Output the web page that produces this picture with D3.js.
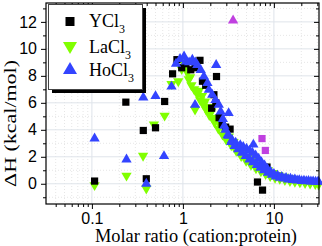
<!DOCTYPE html>
<html>
<head>
<meta charset="utf-8">
<script src="https://cdn.jsdelivr.net/npm/d3@7"></script>
<style>
  body { margin: 0; background: #fff; }
  svg { display: block; }
</style>
</head>
<body>
<svg id="chart"></svg>
<script>
// Chart size
const width = 322;
const height = 246;

// Data: [molar ratio, dH]
const ycl3 = [
  [0.107, 0.2], [0.236, 6.05], [0.367, 3.95], [0.396, 0.37], [0.5, 4.15], [0.63, 6.1],
  [0.77, 8.15], [0.86, 9.2], [0.97, 8.6], [1.08, 8.9], [1.22, 8.45], [1.36, 8.6],
  [1.54, 9.15], [1.64, 7.6], [1.78, 7.3], [2.07, 5.6], [2.19, 6.6], [2.3, 6.0],
  [2.34, 7.95], [2.5, 4.9], [2.7, 4.4], [2.95, 4.2], [3.3, 4.05], [6.6, 0.13],
  [7.5, -0.47], [8.4, 1.24]
];

const lacl3 = [
  [0.107, -0.1], [0.24, 0.6], [0.365, 2.07], [0.396, -0.35], [0.48, 4.4], [0.63, 5.05],
  [1.36, 5.5], [0.75, 7.4], [0.89, 7.6], [0.97, 8.5], [1.02, 9.0], [1.12, 8.25],
  [1.16, 7.75], [1.24, 7.3], [1.33, 7.0], [1.44, 6.65], [1.55, 6.2], [1.68, 5.85],
  [1.8, 5.5], [1.95, 5.1], [2.1, 4.9], [2.23, 4.55], [2.45, 4.1], [2.72, 3.65],
  [3.0, 3.25], [3.4, 2.85], [3.85, 2.45], [4.37, 2.05], [4.95, 1.7], [5.6, 1.4],
  [6.35, 1.15], [7.2, 0.92], [8.1, 0.72], [9.1, 0.57], [10.3, 0.45], [11.6, 0.36],
  [13.2, 0.28], [15, 0.21], [17, 0.15], [19.3, 0.1], [22, 0.06], [25, 0.02],
  [28.5, -0.02], [31, -0.05],
  [1.1, 8.44], [1.2, 7.9], [1.5, 6.9], [1.62, 6.5], [1.75, 6.1], [1.9, 5.7],
  [2.05, 5.35], [2.3, 4.85], [2.55, 4.4], [2.85, 3.95], [3.2, 3.5], [3.6, 3.1],
  [4.1, 2.7], [4.6, 2.35], [5.2, 2.0], [5.9, 1.7], [6.7, 1.45], [7.6, 1.2],
  [8.6, 1.0], [9.8, 0.8], [11.2, 0.65], [12.8, 0.52], [14.6, 0.42], [16.7, 0.34],
  [19, 0.28], [21.7, 0.23], [24.8, 0.19], [28.3, 0.16]
];

const hocl3 = [
  [0.107, 3.35], [0.24, 1.8], [0.367, 6.4], [0.396, 0.0], [0.5, 6.5], [0.62, 2.05],
  [0.75, 7.2], [1.36, 5.85], [2.32, 8.8], [3.18, 5.24], [5.95, 2.9],
  [0.84, 8.9], [0.93, 9.25], [1.03, 9.43], [1.08, 9.06], [1.17, 9.0], [1.27, 9.2],
  [1.37, 9.0], [1.44, 8.8], [1.57, 8.44], [1.7, 7.95], [1.86, 7.46], [1.93, 6.96],
  [2.1, 6.6], [2.28, 6.2], [2.48, 5.85], [2.6, 5.35], [2.75, 4.8],
  [2.94, 4.0], [3.2, 3.55], [3.47, 3.25], [3.8, 3.05], [4.27, 2.85], [4.6, 2.72],
  [5.0, 2.6], [5.4, 2.45], [5.8, 2.3], [6.3, 2.1], [6.8, 1.85], [7.3, 1.6],
  [7.9, 1.35], [8.5, 1.1], [9.2, 0.9], [10, 0.72], [11, 0.6], [12.2, 0.5],
  [13.6, 0.43], [15.2, 0.37], [17, 0.32], [19, 0.27], [21.4, 0.23], [24, 0.2],
  [27, 0.18], [30.5, 0.16],
  [2.85, 4.3], [3.1, 3.6], [3.4, 3.1], [3.7, 2.8], [4.05, 2.55], [4.45, 2.3],
  [4.9, 2.05], [5.4, 1.8], [5.9, 1.6], [6.5, 1.38], [7.1, 1.18], [7.8, 1.0],
  [8.6, 0.82], [9.5, 0.66], [10.5, 0.54], [11.6, 0.45], [12.9, 0.38], [14.4, 0.32],
  [16.1, 0.28], [18, 0.24], [20.2, 0.21], [22.7, 0.19], [25.5, 0.17], [28.7, 0.15],
  [31, 0.14]
];

// Outliers drawn in magenta
const outlierTri = [[3.56, 12.1]];
const outlierSq = [[7.4, 3.35], [8.05, 2.47]];

// Tick values
const xMajor = [0.1, 1, 10];
const xMinor = [0.04, 0.05, 0.06, 0.07, 0.08, 0.09, 0.2, 0.3, 0.4, 0.5, 0.6, 0.7, 0.8, 0.9,
                2, 3, 4, 5, 6, 7, 8, 9, 20, 30];
const yMajor = [0, 2, 4, 6, 8, 10, 12];
const yMinor = [-1, 1, 3, 5, 7, 9, 11, 13];

const legendItems = ["Y", "La", "Ho"];

// Plot area
const plotLeft = 46, plotRight = 319, plotTop = 3, plotBottom = 204;

const x = d3.scaleLog().domain([0.0313, 31.3]).range([plotLeft, plotRight]);
const y = d3.scaleLinear().domain([-1.5, 13.4]).range([plotBottom, plotTop]);

const svg = d3.select("#chart")
  .attr("width", width)
  .attr("height", height);

// Grid
const grid = svg.append("g");
grid.selectAll(".gxm").data(xMinor).join("line")
  .attr("x1", d => x(d)).attr("x2", d => x(d)).attr("y1", plotTop).attr("y2", plotBottom)
  .attr("stroke", "#e6e6e6").attr("stroke-dasharray", "1,2");
grid.selectAll(".gym").data(yMinor).join("line")
  .attr("x1", plotLeft).attr("x2", plotRight).attr("y1", d => y(d)).attr("y2", d => y(d))
  .attr("stroke", "#e6e6e6").attr("stroke-dasharray", "1,2");
grid.selectAll(".gx").data(xMajor).join("line")
  .attr("x1", d => x(d)).attr("x2", d => x(d)).attr("y1", plotTop).attr("y2", plotBottom)
  .attr("stroke", "#dfe4ea");
grid.selectAll(".gy").data(yMajor).join("line")
  .attr("x1", plotLeft).attr("x2", plotRight).attr("y1", d => y(d)).attr("y2", d => y(d))
  .attr("stroke", "#dfe4ea");

// Axes: outside ticks on left/bottom, inside ticks on top/right
const axisStyle = g => {
  g.select(".domain").remove();
  g.selectAll("line").attr("stroke", "#000");
  g.selectAll("text").attr("fill", "#000")
    .style("font-family", "'Liberation Sans', Arial, sans-serif").style("font-size", "16px");
};

svg.append("g").attr("transform", `translate(0,${plotBottom})`)
  .call(d3.axisBottom(x).tickValues(xMajor).tickFormat(d3.format("~g")).tickSize(5).tickPadding(4))
  .call(axisStyle);
svg.append("g").attr("transform", `translate(0,${plotBottom})`)
  .call(d3.axisBottom(x).tickValues(xMinor).tickFormat("").tickSize(3))
  .call(axisStyle);
svg.append("g").attr("transform", `translate(${plotLeft},0)`)
  .call(d3.axisLeft(y).tickValues(yMajor).tickSize(5).tickPadding(4))
  .call(axisStyle);
svg.append("g").attr("transform", `translate(${plotLeft},0)`)
  .call(d3.axisLeft(y).tickValues(yMinor).tickFormat("").tickSize(3))
  .call(axisStyle);
svg.append("g").attr("transform", `translate(0,${plotTop})`)
  .call(d3.axisTop(x).tickValues(xMajor).tickFormat("").tickSize(-5))
  .call(axisStyle);
svg.append("g").attr("transform", `translate(0,${plotTop})`)
  .call(d3.axisTop(x).tickValues(xMinor).tickFormat("").tickSize(-3))
  .call(axisStyle);
svg.append("g").attr("transform", `translate(${plotRight},0)`)
  .call(d3.axisRight(y).tickValues(yMajor).tickFormat("").tickSize(-5))
  .call(axisStyle);
svg.append("g").attr("transform", `translate(${plotRight},0)`)
  .call(d3.axisRight(y).tickValues(yMinor).tickFormat("").tickSize(-3))
  .call(axisStyle);

// Markers
const sq = d3.symbol(d3.symbolSquare, 52)();
const tri = d3.symbol(d3.symbolTriangle, 46)();

const drawSeries = (data, shape, color, rot) => {
  svg.append("g").selectAll("path").data(data).join("path")
    .attr("d", shape)
    .attr("transform", d => `translate(${x(d[0])},${y(d[1])}) rotate(${rot})`)
    .attr("fill", color);
};

drawSeries(lacl3, tri, "#80ff00", 180);
drawSeries(ycl3, sq, "#000", 0);
drawSeries(hocl3, tri, "#3344ff", 0);
drawSeries(outlierTri, tri, "#c040e0", 0);
drawSeries(outlierSq, sq, "#c040e0", 0);

// Frame
svg.append("rect")
  .attr("x", plotLeft).attr("y", plotTop).attr("width", plotRight - plotLeft).attr("height", plotBottom - plotTop)
  .attr("fill", "none").attr("stroke", "#000").attr("stroke-width", 1.2);

// Legend with drop shadow
const lg = svg.append("g");
lg.append("rect").attr("x", 52).attr("y", 8).attr("width", 94).attr("height", 85).attr("fill", "#000");
lg.append("rect").attr("x", 48.5).attr("y", 4.5).attr("width", 94).attr("height", 85)
  .attr("fill", "#fff").attr("stroke", "#444");

const legendMarks = [
  { shape: d3.symbol(d3.symbolSquare, 81)(), color: "#000", rot: 0, cy: 21.5 },
  { shape: d3.symbol(d3.symbolTriangle, 85)(), color: "#80ff00", rot: 180, cy: 46 },
  { shape: d3.symbol(d3.symbolTriangle, 85)(), color: "#3344ff", rot: 0, cy: 70 }
];
const baselines = [27, 52.5, 76];

legendItems.forEach((name, i) => {
  const m = legendMarks[i];
  lg.append("path").attr("d", m.shape)
    .attr("transform", `translate(70,${m.cy}) rotate(${m.rot})`)
    .attr("fill", m.color);
  const t = lg.append("text").attr("x", 89).attr("y", baselines[i])
    .style("font-family", "'Liberation Serif', 'Times New Roman', serif")
    .style("font-size", "18px");
  t.append("tspan").text(name + "Cl");
  t.append("tspan").attr("dy", 6).style("font-size", "12px").text("3");
});

// Axis titles
svg.append("text")
  .attr("x", 196).attr("y", 242)
  .attr("text-anchor", "middle")
  .style("font-family", "'Liberation Serif', 'Times New Roman', serif")
  .style("font-size", "18px")
  .attr("textLength", 202).attr("lengthAdjust", "spacingAndGlyphs")
  .text("Molar ratio (cation:protein)");

svg.append("text")
  .attr("transform", "translate(16,123.5) rotate(-90)")
  .attr("text-anchor", "middle")
  .style("font-family", "'Liberation Serif', 'Times New Roman', serif")
  .style("font-size", "17px")
  .attr("textLength", 127).attr("lengthAdjust", "spacingAndGlyphs")
  .text("ΔH (kcal/mol)");
</script>
</body>
</html>
